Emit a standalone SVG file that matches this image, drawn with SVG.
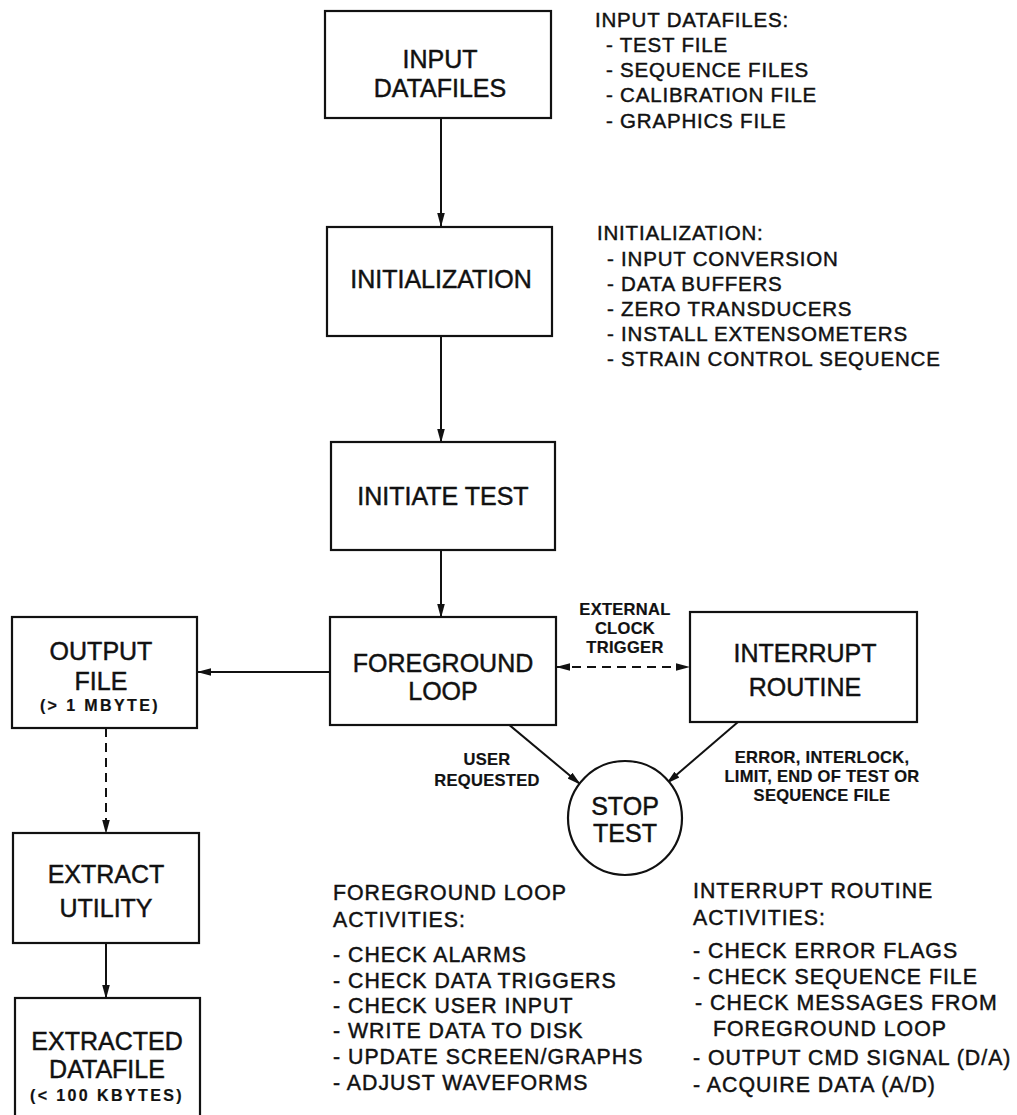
<svg xmlns="http://www.w3.org/2000/svg" width="1017" height="1115" viewBox="0 0 1017 1115">
<style>
text{font-family:"Liberation Sans",Arial,sans-serif;fill:#111;stroke:#111;stroke-width:0.45}
.box{fill:#fff;stroke:#111;stroke-width:2.2}
.lbl{font-size:25px;text-anchor:middle}
.sub{font-size:16px;text-anchor:middle;font-weight:bold;letter-spacing:2.4px;stroke-width:0.2}
.note{font-size:20.5px;letter-spacing:0.8px}
.note2{font-size:21.3px;letter-spacing:1px}
.edge{font-size:16.5px;font-weight:bold;text-anchor:middle;letter-spacing:0.3px;stroke-width:0.2}
.ln{stroke:#111;stroke-width:2;fill:none}
.dash{stroke-dasharray:9 6}
</style>
<defs>
<marker id="ah" viewBox="0 0 14 10" refX="13" refY="5" markerWidth="14" markerHeight="10" markerUnits="userSpaceOnUse" orient="auto-start-reverse">
<path d="M0,1.2 L14,5 L0,8.8 z" fill="#111"/>
</marker>
</defs>
<rect width="1017" height="1115" fill="#fff"/>
<g id="connectors">
<line class="ln" x1="441" y1="118" x2="441" y2="226" marker-end="url(#ah)"/>
<line class="ln" x1="441" y1="336" x2="441" y2="442" marker-end="url(#ah)"/>
<line class="ln" x1="441" y1="550" x2="441" y2="617" marker-end="url(#ah)"/>
<line class="ln" x1="330" y1="672" x2="198" y2="672" marker-end="url(#ah)"/>
<line class="ln dash" x1="557" y1="667" x2="689" y2="667" marker-start="url(#ah)" marker-end="url(#ah)"/>
<line class="ln" x1="507" y1="723" x2="580" y2="784" marker-end="url(#ah)"/>
<line class="ln" x1="738" y1="722" x2="667" y2="783" marker-end="url(#ah)"/>
<line class="ln dash" x1="106" y1="728" x2="106" y2="833" marker-end="url(#ah)"/>
<line class="ln" x1="106" y1="943" x2="106" y2="998" marker-end="url(#ah)"/>
<text class="edge" x="625" y="615">EXTERNAL</text>
<text class="edge" x="625" y="634">CLOCK</text>
<text class="edge" x="625" y="653">TRIGGER</text>
<text class="edge" x="487" y="765">USER</text>
<text class="edge" x="487" y="786">REQUESTED</text>
<text class="edge" x="822" y="763">ERROR, INTERLOCK,</text>
<text class="edge" x="822" y="782">LIMIT, END OF TEST OR</text>
<text class="edge" x="822" y="801">SEQUENCE FILE</text>
</g>
<g id="input-datafiles">
<rect class="box" x="325" y="11" width="226" height="107"/>
<text class="lbl" x="440" y="68">INPUT</text>
<text class="lbl" x="440" y="97">DATAFILES</text>
</g>
<g id="initialization">
<rect class="box" x="327" y="227" width="225" height="109"/>
<text class="lbl" x="441" y="288">INITIALIZATION</text>
</g>
<g id="initiate-test">
<rect class="box" x="331" y="442" width="224" height="108"/>
<text class="lbl" x="443" y="505">INITIATE TEST</text>
</g>
<g id="foreground-loop">
<rect class="box" x="330" y="617" width="226" height="108"/>
<text class="lbl" x="443" y="672">FOREGROUND</text>
<text class="lbl" x="443" y="700">LOOP</text>
</g>
<g id="interrupt-routine">
<rect class="box" x="690" y="612" width="227" height="110"/>
<text class="lbl" x="805" y="662">INTERRUPT</text>
<text class="lbl" x="805" y="696">ROUTINE</text>
</g>
<g id="output-file">
<rect class="box" x="12" y="617" width="185" height="111"/>
<text class="lbl" x="101" y="660">OUTPUT</text>
<text class="lbl" x="101" y="690">FILE</text>
<text class="sub" x="100" y="711">(&gt; 1 MBYTE)</text>
</g>
<g id="extract-utility">
<rect class="box" x="13" y="833" width="186" height="110"/>
<text class="lbl" x="106" y="883">EXTRACT</text>
<text class="lbl" x="106" y="917">UTILITY</text>
</g>
<g id="extracted-datafile">
<rect class="box" x="15" y="998" width="185" height="130"/>
<text class="lbl" x="107" y="1050">EXTRACTED</text>
<text class="lbl" x="107" y="1078">DATAFILE</text>
<text class="sub" x="107" y="1101">(&lt; 100 KBYTES)</text>
</g>
<g id="stop-test">
<circle class="box" cx="625" cy="818" r="57"/>
<text class="lbl" x="625" y="815">STOP</text>
<text class="lbl" x="625" y="842">TEST</text>
</g>
<g id="notes">
<text class="note" x="595" y="27">INPUT DATAFILES:</text>
<text class="note" x="606" y="52">- TEST FILE</text>
<text class="note" x="606" y="77">- SEQUENCE FILES</text>
<text class="note" x="606" y="102">- CALIBRATION FILE</text>
<text class="note" x="606" y="128">- GRAPHICS FILE</text>
<text class="note" x="597" y="240">INITIALIZATION:</text>
<text class="note" x="607" y="266">- INPUT CONVERSION</text>
<text class="note" x="607" y="291">- DATA BUFFERS</text>
<text class="note" x="607" y="316">- ZERO TRANSDUCERS</text>
<text class="note" x="607" y="341">- INSTALL EXTENSOMETERS</text>
<text class="note" x="607" y="366">- STRAIN CONTROL SEQUENCE</text>
<text class="note2" x="333" y="900">FOREGROUND LOOP</text>
<text class="note2" x="333" y="927">ACTIVITIES:</text>
<text class="note2" x="333" y="962">- CHECK ALARMS</text>
<text class="note2" x="333" y="988">- CHECK DATA TRIGGERS</text>
<text class="note2" x="333" y="1013">- CHECK USER INPUT</text>
<text class="note2" x="333" y="1038">- WRITE DATA TO DISK</text>
<text class="note2" x="333" y="1064">- UPDATE SCREEN/GRAPHS</text>
<text class="note2" x="333" y="1090">- ADJUST WAVEFORMS</text>
<text class="note2" x="693" y="898">INTERRUPT ROUTINE</text>
<text class="note2" x="693" y="925">ACTIVITIES:</text>
<text class="note2" x="693" y="958">- CHECK ERROR FLAGS</text>
<text class="note2" x="693" y="984">- CHECK SEQUENCE FILE</text>
<text class="note2" x="695" y="1010">- CHECK MESSAGES FROM</text>
<text class="note2" x="713" y="1036">FOREGROUND LOOP</text>
<text class="note2" x="693" y="1065">- OUTPUT CMD SIGNAL (D/A)</text>
<text class="note2" x="693" y="1092">- ACQUIRE DATA (A/D)</text>
</g>
</svg>
